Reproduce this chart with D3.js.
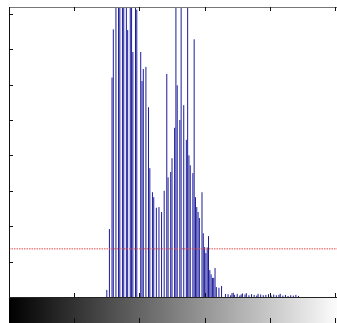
<!DOCTYPE html>
<html><head><meta charset="utf-8">
<script src="https://cdn.jsdelivr.net/npm/d3@7"></script>
<style>html,body{margin:0;padding:0;background:#fff;overflow:hidden}</style>
</head><body><svg id="c" width="337" height="323"></svg>
<script>
// gray levels (bins) that have counts, and their counts
const grayLevels = [75,77,79,80,82,84,85,87,88,90,91,93,94,95,97,98,101,102,103,105,107,108,110,111,113,115,117,119,121,122,124,125,127,128,129,131,132,134,136,137,138,139,141,142,143,144,145,146,148,149,150,151,152,153,154,155,156,157,158,159,161,163,166,
  168,170,171,172,173,175,177,178,179,181,182,184,186,188,190,191,193,195,197,199,201,203,205,207,208,210,212,214,216,218,220,222];
const counts = [100,960,3100,3780,5200,6000,5500,5800,4900,5300,3770,5600,5100,3460,4800,4060,3460,3050,3220,3250,2680,1820,1480,1410,1260,1270,1200,1500,3150,1690,1765,1960,2390,4600,2990,2500,4500,2710,2220,4400,2000,1860,1750,3640,1410,1270,1200,1115,1480,900,705,620,700,860,380,320,270,270,410,140,130,155,42,
  40,25,55,60,30,45,20,35,50,35,55,25,40,30,20,45,35,25,30,40,20,35,25,30,45,20,30,15,25,20,30,15];
const xTicks = [0,50,100,150,200,250];
const yTicks = [0,500,1000,1500,2000,2500,3000,3500,4000];
const threshold = 680;

const svg = d3.select("#c");
const x = d3.scaleLinear().domain([0,255]).range([9, 9+255*1.304]);
const y = d3.scaleLinear().domain([0,4096]).range([297,7]);

svg.append("defs").append("clipPath").attr("id","clip")
  .append("rect").attr("x",9).attr("y",7).attr("width",340).attr("height",290);

// stems
svg.append("g").attr("clip-path","url(#clip)")
  .selectAll("line").data(grayLevels).join("line")
  .attr("x1",(d)=>x(d)).attr("x2",(d)=>x(d))
  .attr("y1",y(0)).attr("y2",(d,i)=>y(counts[i]))
  .attr("stroke","#1c1c9c").attr("stroke-width",1);

// threshold line
svg.append("line").attr("x1",9).attr("x2",337).attr("y1",y(threshold)).attr("y2",y(threshold))
  .attr("stroke","#e04a4a").attr("stroke-width",1).attr("stroke-dasharray","1.5,1");

// axes box lines
svg.append("line").attr("x1",9).attr("x2",337).attr("y1",7.5).attr("y2",7.5).attr("stroke","#777").attr("stroke-width",1);
svg.append("line").attr("x1",9.5).attr("x2",9.5).attr("y1",7).attr("y2",297).attr("stroke","#111").attr("stroke-width",1);

// y ticks (inward)
svg.append("g").selectAll("line").data(yTicks.slice(1)).join("line")
  .attr("x1",9).attr("x2",13).attr("y1",(d)=>Math.round(y(d))+0.5).attr("y2",(d)=>Math.round(y(d))+0.5)
  .attr("stroke","#111");
// x ticks top and bottom (inward)
svg.append("g").selectAll("line").data(xTicks.slice(1)).join("line")
  .attr("x1",(d)=>Math.round(x(d))+0.5).attr("x2",(d)=>Math.round(x(d))+0.5)
  .attr("y1",7).attr("y2",11).attr("stroke","#111");
svg.append("g").selectAll("line").data(xTicks.slice(1)).join("line")
  .attr("x1",(d)=>Math.round(x(d))+0.5).attr("x2",(d)=>Math.round(x(d))+0.5)
  .attr("y1",293).attr("y2",297).attr("stroke","#111");

// colorbar
const grad = svg.select("defs").append("linearGradient").attr("id","g")
  .attr("gradientUnits","userSpaceOnUse").attr("x1",x(0)).attr("x2",x(255)).attr("y1",0).attr("y2",0);
grad.append("stop").attr("offset","0").attr("stop-color","#000");
grad.append("stop").attr("offset","1").attr("stop-color","#fff");
svg.append("rect").attr("x",9).attr("y",297).attr("width",x(255)-9).attr("height",30).attr("fill","url(#g)");
svg.append("line").attr("x1",9).attr("x2",337).attr("y1",297.5).attr("y2",297.5).attr("stroke","#222");
svg.append("g").selectAll("line").data(xTicks.slice(1)).join("line")
  .attr("x1",(d)=>Math.round(x(d))+0.5).attr("x2",(d)=>Math.round(x(d))+0.5)
  .attr("y1",318).attr("y2",323).attr("stroke","#111");
</script></body></html>
